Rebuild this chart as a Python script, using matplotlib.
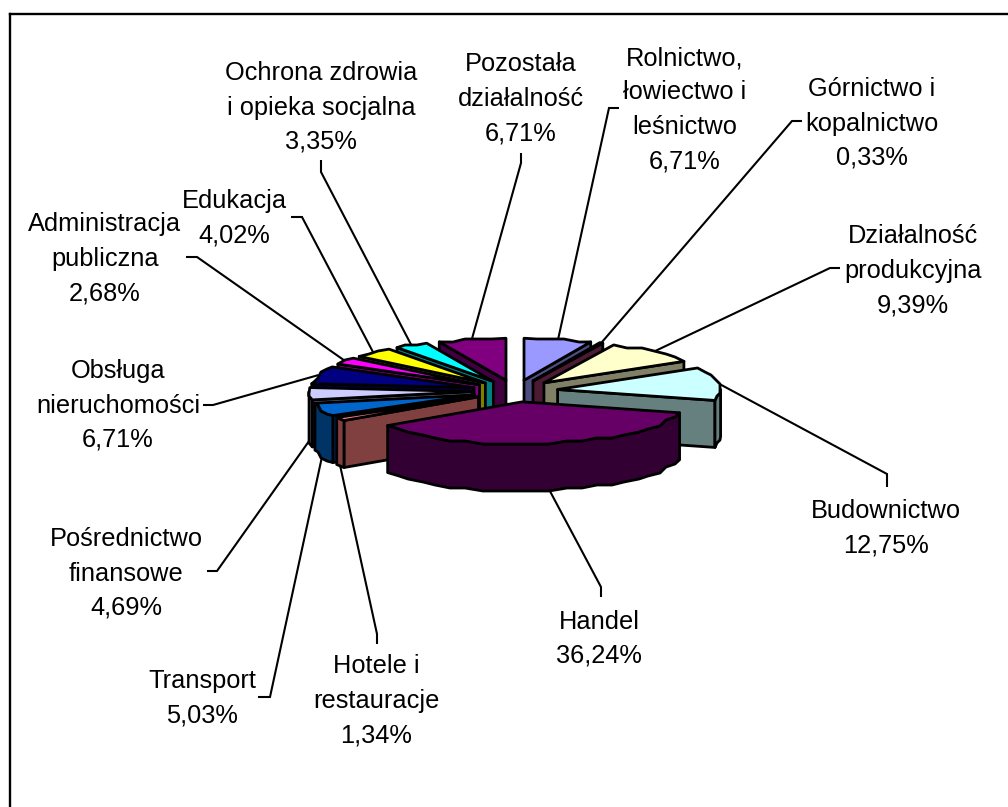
import numpy as np
import matplotlib
matplotlib.use("Agg")
import matplotlib.pyplot as plt
from matplotlib.patches import Polygon

# --- data ---
categories = ["Rolnictwo,\nłowiectwo i\nleśnictwo", "Górnictwo i\nkopalnictwo", "Działalność\nprodukcyjna",
              "Budownictwo", "Handel", "Hotele i\nrestauracje", "Transport", "Pośrednictwo\nfinansowe",
              "Obsługa\nnieruchomości", "Administracja\npubliczna", "Edukacja",
              "Ochrona zdrowia\ni opieka socjalna", "Pozostała\ndziałalność"]
values = [6.71, 0.33, 9.39, 12.75, 36.24, 1.34, 5.03, 4.69, 6.71, 2.68, 4.02, 3.35, 6.71]
colors = ["#9999FF", "#993366", "#FFFFCC", "#CCFFFF", "#660066", "#FF8080", "#0066CC",
          "#CCCCFF", "#000080", "#FF00FF", "#FFFF00", "#00FFFF", "#800080"]

# --- layout (pixels) ---
W, H = 1008, 807
CX, CY, A, B, EX, EY, DEPTH = 515, 391, 163, 42, 43, 11, 47
GRID = 3.0
# label centre x, baseline y of the last line
label_xy = [(685, 168), (872, 165), (913, 312), (886, 552), (599, 663), (376, 742), (202, 722),
            (126, 615), (118, 447), (105, 300), (234, 242), (321, 149), (521, 140)]
label_elbow = [((609, 108), (619, 108)), ((792, 121), (802, 121)), ((830, 268), (840, 268)),
               ((887, 474), (887, 487)), ((601, 587), (601, 597)), ((377, 634), (377, 644)),
               ((270, 697), (258, 697)), ((217, 571), (207, 571)), ((213, 405), (203, 405)),
               ((197, 257), (186, 257)), ((302, 217), (291, 217)), ((321, 172), (321, 160)),
               ((521, 163), (521, 153))]
LW = 2.0

fig = plt.figure(figsize=(W / 100, H / 100), dpi=100)
ax = fig.add_axes([0, 0, 1, 1])
ax.set_xlim(0, W)
ax.set_ylim(H, 0)
ax.axis("off")

vals = np.array(values)
edges = np.concatenate([[0], np.cumsum(vals)]) / vals.sum() * 2 * np.pi


def darker(c):
    r = matplotlib.colors.to_rgb(c)
    return tuple(v * 0.5 for v in r)


def point(t, cx, cy):
    return np.array([cx + A * np.sin(t), cy - B * np.cos(t)])


def rim_points(t0, t1, cx, cy):
    # coarse, pixel-snapped arc: the source renderer's rim is slightly scalloped
    m = max(2, int(np.ceil((t1 - t0) / np.radians(6))) + 1)
    pts = []
    for k, t in enumerate(np.linspace(t0, t1, m)):
        p = point(t, cx, cy)
        if 0 < k < m - 1:
            p = np.round(p / GRID) * GRID
        pts.append(p)
    return pts


def poly(pts, fc):
    ax.add_patch(Polygon(pts, closed=True, fc=fc, ec="black", lw=LW, joinstyle="round"))


def draw_slice(i):
    t0, t1 = edges[i], edges[i + 1]
    tm = (t0 + t1) / 2
    ax_, ay_ = CX + EX * np.sin(tm), CY - EY * np.cos(tm)
    apex = np.array([ax_, ay_])
    down = np.array([0, DEPTH])
    side = darker(colors[i])
    if t1 <= np.pi:
        p = point(t1, ax_, ay_)
        poly([apex, p, p + down, apex + down], side)
    elif t0 >= np.pi:
        p = point(t0, ax_, ay_)
        poly([apex, p, p + down, apex + down], side)
    a0, a1 = max(t0, np.pi / 2), min(t1, 3 * np.pi / 2)
    if a1 > a0:
        rim = rim_points(a0, a1, ax_, ay_)
        poly(rim + [q + down for q in rim[::-1]], side)
    poly([apex] + rim_points(t0, t1, ax_, ay_), colors[i])
    return ax_, ay_, tm


n = len(values)
order = [0, 1, 2, 3, 12, 11, 10, 9, 8, 7, 6, 5, 4]
geo = {}
for i in order:
    geo[i] = draw_slice(i)

# leader lines start on the rim of each slice
for i in range(n):
    ax_, ay_, tm = geo[i]
    s = point(tm, ax_, ay_)
    if np.pi / 2 < tm < 3 * np.pi / 2:
        s = s + np.array([0, DEPTH])
    e1, e2 = label_elbow[i]
    ax.plot([s[0], e1[0], e2[0]], [s[1], e1[1], e2[1]], color="black", lw=1.5, zorder=0.5,
            solid_joinstyle="miter", solid_capstyle="butt")

# data labels
for i in range(n):
    x, y = label_xy[i]
    ax.text(x, y, f"{categories[i]}\n{values[i]:.2f}%".replace(".", ","), ha="center", va="baseline",
            multialignment="center", family="Liberation Sans", fontsize=18.3, linespacing=1.54,
            color="black", zorder=5)

# chart border
ax.plot([10, 10], [H, 14], color="black", lw=1.7, zorder=6, solid_capstyle="projecting")
ax.plot([10, W], [14, 14], color="black", lw=1.7, zorder=6, solid_capstyle="projecting")

fig.savefig("out.png", dpi=100)
